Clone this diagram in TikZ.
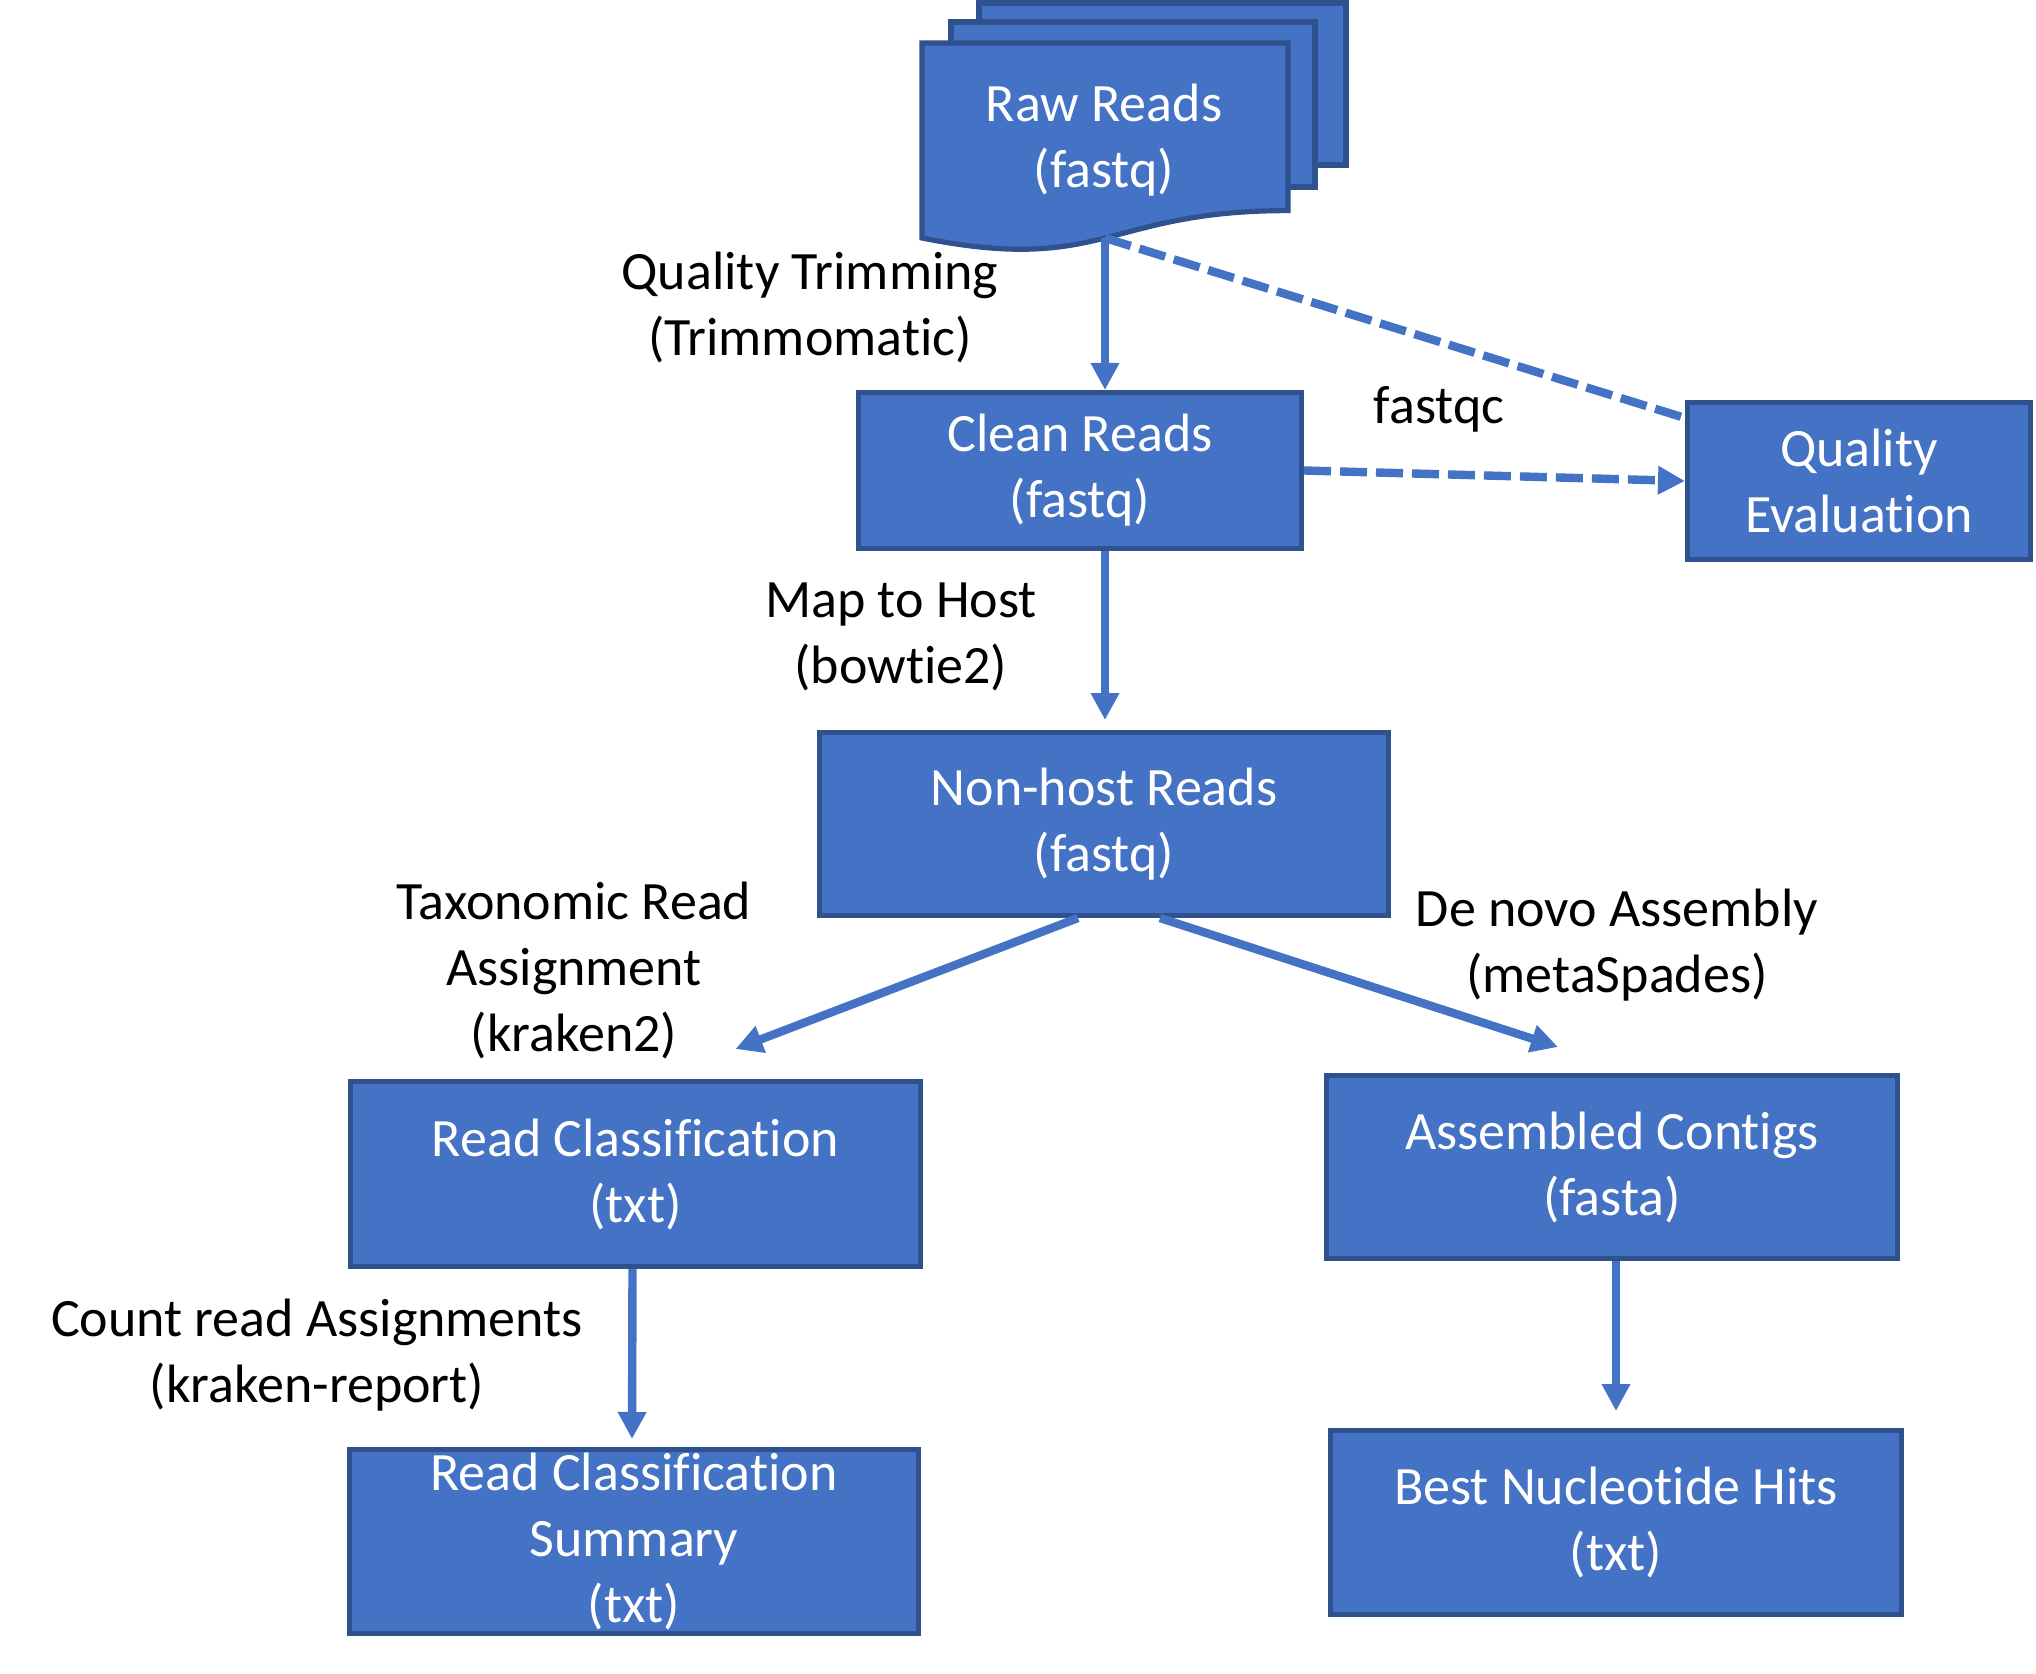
\documentclass[tikz,border=0pt]{standalone}
\usepackage{fontspec}
\setmainfont{Carlito}[Ligatures={NoCommon,NoContextual},RawFeature=-calt]
\usetikzlibrary{arrows.meta,calc}
\definecolor{fillb}{HTML}{4472C4}
\definecolor{edgeb}{HTML}{2F528F}
\begin{document}
\begin{tikzpicture}[x=0.5pt,y=-0.5pt,
 box/.style={draw=edgeb, fill=fillb, line width=2.6pt, text=white, align=center, inner sep=0pt, font=\fontsize{27}{33}\selectfont},
 page/.style={draw=edgeb, fill=fillb, line width=2.6pt},
 lbl/.style={align=center, inner sep=0pt, font=\fontsize{27}{33}\selectfont},
 arr/.style={draw=fillb, line width=4.2pt, -{Triangle[length=13.5pt,width=13.5pt]}},
 dsh/.style={draw=fillb, line width=4.2pt, dash pattern=on 13.5pt off 4.5pt},
]
\useasboundingbox (0,0) rectangle (2036,1674);

% Raw reads multi-document
\draw[page] (979,3) rectangle (1346,165);
\draw[page] (951,22) rectangle (1315,187);
\draw[page] (922,43) -- (1288,43) -- (1288,210.6) .. controls (1105,210.6) and (1105,274.5) .. (922,238) -- cycle;
\node[lbl, text=white] (raw) at (1104,140) {Raw Reads\\(fastq)};
\coordinate (rawbot) at (1105,238);

% boxes
\node[box, minimum width=221.4pt, minimum height=77.9pt] (clean) at (1080,470.5) {Clean Reads\\(fastq)};
\node[box, minimum width=171.4pt, minimum height=78.4pt] (quality) at (1859,481) {Quality\\Evaluation};
\node[box, minimum width=284.4pt, minimum height=91.4pt] (nonhost) at (1104,824) {Non-host Reads\\(fastq)};
\node[box, minimum width=284.9pt, minimum height=92.4pt] (readclass) at (635.5,1174) {Read Classification\\(txt)};
\node[box, minimum width=285.4pt, minimum height=91.4pt] (contigs) at (1612,1167) {Assembled Contigs\\(fasta)};
\node[box, minimum width=284.4pt, minimum height=91.9pt] (summary) at (634,1541.5) {Read Classification\\Summary\\(txt)};
\node[box, minimum width=285.4pt, minimum height=91.9pt] (best) at (1616,1522.5) {Best Nucleotide Hits\\(txt)};

% labels
\node[lbl] (lqt) at (810,307) {Quality Trimming\\(Trimmomatic)};
\node[lbl] (lfq) at (1439,409) {fastqc};
\node[lbl] (lmh) at (901,637) {Map to Host\\(bowtie2)};
\node[lbl] (ltx) at (574,970) {Taxonomic Read\\Assignment\\(kraken2)};
\node[lbl] (ldn) at (1617,945) {De novo Assembly\\(metaSpades)};
\node[lbl] (lcr) at (317,1355) {Count read Assignments\\(kraken-report)};

% connectors
\draw[arr] (rawbot) -- (rawbot |- clean.north);
\draw[dsh] (rawbot) -- ($(quality.north west)+(0,18)$);
\draw[dsh, -{Triangle[length=13.5pt,width=13.5pt]}] (clean.east) -- (quality.west);
\draw[arr, shorten >=5pt] (rawbot |- clean.south) -- (rawbot |- nonhost.north);
\draw[arr] ($(nonhost.south)+(-26,0)$) -- ($(readclass.north)+(100,-30)$);
\draw[arr] ($(nonhost.south)+(56,0)$) -- ($(contigs.north)+(-54,-26)$);
\draw[arr, shorten >=4pt] ($(readclass.south)+(-3,0)$) -- ($(summary.north)+(-2,0)$);
\draw[arr, shorten >=8.5pt] (best.north |- contigs.south) -- (best.north);
\end{tikzpicture}
\end{document}
